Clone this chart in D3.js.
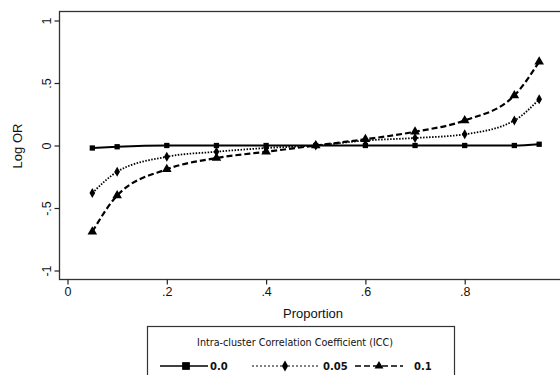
<!DOCTYPE html>
<html>
<head>
<meta charset="utf-8">
<script src="https://cdn.jsdelivr.net/npm/d3@7"></script>
<style>
  body { margin: 0; background: #fff; }
  svg { display: block; font-family: "Liberation Sans", Arial, sans-serif; }
</style>
</head>
<body>
<svg width="560" height="375"></svg>
<script>
const proportions = [0.05, 0.1, 0.2, 0.3, 0.4, 0.5, 0.6, 0.7, 0.8, 0.9, 0.95];
const icc00 = [-0.02, -0.01, 0.0, 0.0, 0.0, 0.0, 0.0, 0.0, 0.0, 0.0, 0.01];
const icc005 = [-0.38, -0.21, -0.09, -0.05, -0.02, 0.0, 0.04, 0.06, 0.09, 0.2, 0.37];
const icc01 = [-0.69, -0.40, -0.19, -0.10, -0.05, 0.0, 0.05, 0.11, 0.2, 0.40, 0.67];
const xTicks = [0, 0.2, 0.4, 0.6, 0.8, 1];
const yTicks = [-1, -0.5, 0, 0.5, 1];
const seriesNames = ["0.0", "0.05", "0.1"];

const svg = d3.select("svg");

const x = d3.scaleLinear().domain([0, 1]).range([67.5, 564]);
const y = d3.scaleLinear().domain([-1, 1]).range([270.5, 20.5]);

const fmt = d => d === 0 ? "0" : (d < 0 ? "-" : "") + String(Math.abs(d)).replace(/^0/, "");

// plot frame
svg.append("rect")
    .attr("x", 59.5).attr("y", 11.5)
    .attr("width", 520).attr("height", 268)
    .attr("fill", "none").attr("stroke", "#333").attr("stroke-width", 1.3);

// x axis
const xAxis = svg.append("g")
    .attr("transform", "translate(0,279.5)")
    .call(d3.axisBottom(x).tickValues(xTicks).tickFormat(fmt).tickSize(5).tickPadding(3));
xAxis.select(".domain").remove();
xAxis.selectAll("line").attr("stroke", "#222").attr("stroke-width", 1.2);
xAxis.selectAll("text").attr("font-size", 12.5).attr("fill", "#111");

// y axis
const yAxis = svg.append("g")
    .attr("transform", "translate(59.5,0)")
    .call(d3.axisLeft(y).tickValues(yTicks).tickFormat(fmt).tickSize(5).tickPadding(3));
yAxis.select(".domain").remove();
yAxis.selectAll("line").attr("stroke", "#222").attr("stroke-width", 1.2);
yAxis.selectAll("text")
    .attr("font-size", 12.5).attr("fill", "#111")
    .attr("text-anchor", "middle")
    .attr("transform", "translate(-13,0) rotate(-90)")
    .attr("x", 0).attr("y", 0).attr("dy", "0.35em");

// axis titles
svg.append("text")
    .attr("x", 313).attr("y", 318)
    .attr("text-anchor", "middle").attr("font-size", 13).attr("fill", "#111")
    .text("Proportion");
svg.append("text")
    .attr("transform", "translate(22,146) rotate(-90)")
    .attr("text-anchor", "middle").attr("font-size", 13).attr("fill", "#111")
    .text("Log OR");

const series = [
    { name: seriesNames[0], values: icc00, dash: null, width: 2.2, shape: d3.symbolSquare, size: 28 },
    { name: seriesNames[1], values: icc005, dash: "1.5,1.5", width: 1.8, shape: d3.symbolDiamond, size: 28 },
    { name: seriesNames[2], values: icc01, dash: "6,3", width: 2.2, shape: d3.symbolTriangle, size: 40 }
];

const line = d3.line()
    .curve(d3.curveMonotoneX)
    .x(function (d) { return x(d[0]); })
    .y(function (d) { return y(d[1]); });

const plot = svg.append("g");

series.forEach(function (s) {
    const pts = proportions.map(function (p, i) { return [p, s.values[i]]; });
    plot.append("path")
        .attr("d", line(pts))
        .attr("fill", "none")
        .attr("stroke", "#000")
        .attr("stroke-width", s.width)
        .attr("stroke-dasharray", s.dash);
    plot.selectAll(null)
        .data(pts)
        .enter().append("path")
        .attr("transform", function (d) { return "translate(" + x(d[0]) + "," + y(d[1]) + ")"; })
        .attr("d", d3.symbol().type(s.shape).size(s.size))
        .attr("fill", "#000");
});

// legend
const legend = svg.append("g");
legend.append("rect")
    .attr("x", 147.5).attr("y", 326.5)
    .attr("width", 307).attr("height", 60)
    .attr("fill", "#fff").attr("stroke", "#333").attr("stroke-width", 1.2);
legend.append("text")
    .attr("x", 295).attr("y", 346)
    .attr("text-anchor", "middle")
    .attr("font-family", "DejaVu Sans, sans-serif").attr("font-size", 9.6).attr("fill", "#111")
    .text("Intra-cluster Correlation Coefficient (ICC)");

const legendItems = [
    { x0: 160, x1: 208, tx: 210 },
    { x0: 252, x1: 318, tx: 323 },
    { x0: 355, x1: 403, tx: 414 }
];
series.forEach(function (s, i) {
    const it = legendItems[i];
    const ly = 366;
    legend.append("line")
        .attr("x1", it.x0).attr("x2", it.x1)
        .attr("y1", ly).attr("y2", ly)
        .attr("stroke", "#000")
        .attr("stroke-width", i === 1 ? 1 : 1.4)
        .attr("stroke-dasharray", i === 1 ? "2,2" : s.dash);
    legend.append("path")
        .attr("transform", "translate(" + ((it.x0 + it.x1) / 2 + (i === 0 ? 2 : 0)) + "," + ly + ")")
        .attr("d", d3.symbol().type(s.shape).size(i === 0 ? 60 : 34))
        .attr("fill", "#000");
    legend.append("text")
        .attr("x", it.tx).attr("y", ly).attr("dy", "0.35em")
        .attr("font-family", "DejaVu Sans, sans-serif").attr("font-size", 10)
        .attr("font-weight", "bold").attr("fill", "#111")
        .text(s.name);
});
</script>
</body>
</html>
